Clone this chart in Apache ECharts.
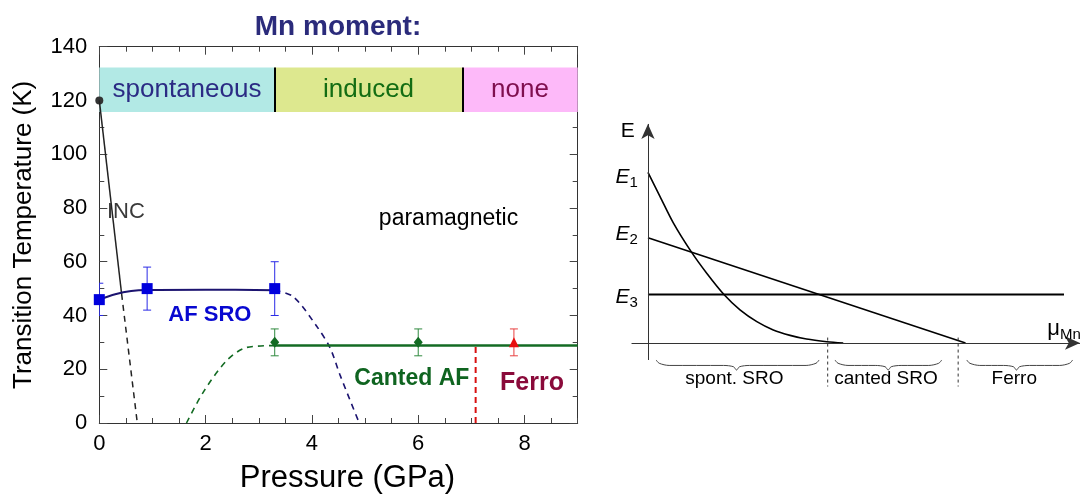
<!DOCTYPE html>
<html><head><meta charset="utf-8">
<script src="https://cdn.jsdelivr.net/npm/echarts@6/dist/echarts.min.js"></script>
<style>html,body{margin:0;padding:0;background:#fff}#c{width:1087px;height:499px}</style>
</head><body><div id="c"></div>
<script>
// ---------- Left panel: phase diagram (Pressure GPa vs Transition Temperature K) ----------
const afSroPoints   = [[0, 45.9], [0.9, 50], [3.3, 50]];
const afSroErrors   = [[0, 40, 52], [0.9, 42, 58], [3.3, 40, 60]];      // [P, low, high]
const afSroCurve    = [[0, 45.9], [0.3, 47.9], [0.6, 49.1], [0.9, 49.5], [2.0, 49.6], [3.3, 49.4]];
const afSroDashed   = [[3.3, 49.4], [3.65, 47], [4.09, 36], [4.34, 28], [4.53, 17.8], [4.89, 0]];
const cantedPoints  = [[3.3, 30], [6, 30]];
const cantedErrors  = [[3.3, 25, 35], [6, 25, 35]];
const cantedLine    = [[3.3, 28.8], [9, 28.8]];
const cantedDashed  = [[1.64, 0], [1.96, 11.6], [2.4, 23.3], [2.77, 28.1], [3.3, 28.8]];
const ferroPoints   = [[7.8, 30]];
const ferroErrors   = [[7.8, 25, 35]];
const ferroBoundary = [[7.08, 0], [7.08, 28.8]];
const incSolid      = [[0, 120], [0.42, 48]];
const incDashed     = [[0.42, 48], [0.715, 0]];
const incStart      = [[0, 120]];
const momentBandNames = ['spontaneous', 'induced', 'none'];
const momentBandEdges = [0, 3.3, 6.83, 9];
const momentBandRange = [115.7, 132.3];
const phaseLabelText = ['INC', 'paramagnetic', 'AF SRO', 'Canted AF', 'Ferro'];
const phaseLabelAt   = [[0.5, 78.7], [6.57, 76.2], [2.08, 40.2], [5.88, 16.4], [8.14, 15.0]];

// ---------- Right panel: energy schematic (E vs mu_Mn, arbitrary units) ----------
const levelE1 = [[0, 7.83], [0.28, 6.72], [0.59, 5.50], [1.0, 4.19], [1.36, 3.20], [1.77, 2.20], [2.13, 1.52],
                 [2.52, 0.98], [2.90, 0.60], [3.29, 0.35], [3.67, 0.18], [4.14, 0.06], [4.52, 0]];
const levelE2 = [[0, 4.83], [7.35, 0]];
const levelE3 = [[0, 2.23], [9.63, 2.23]];
const regimeNames    = ['spont. SRO', 'canted SRO', 'Ferro'];
const regimeBraces   = [[0.19, 2.05, 3.96], [4.33, 5.56, 6.80], [7.38, 8.53, 9.83]]; // [start, tip, end]
const regimeBoundary = [4.16, 7.18];
const energyLabelText = ['E', 'E1', 'E2', 'E3', 'muMn'];
const energyLabelAt   = [[-0.47, 9.72], [-0.49, 7.62], [-0.49, 5.0], [-0.49, 2.12], [9.63, 0.64]];

const FONT = '"Liberation Sans", Arial, Helvetica, sans-serif';
const chart = echarts.init(document.getElementById('c'));

const bandColors = ['#b2e9e5', '#dde88f', '#fdb9f9'];
const bandText   = ['#2b2b84', '#136d13', '#7f0f4f'];

function errorBar(color) {
  return function (params, api) {
    const x = api.value(0), lo = api.coord([x, api.value(1)]), hi = api.coord([x, api.value(2)]);
    const w = 4, st = { stroke: color, lineWidth: 1 };
    return { type: 'group', children: [
      { type: 'line', shape: { x1: lo[0], y1: lo[1], x2: hi[0], y2: hi[1] }, style: st },
      { type: 'line', shape: { x1: lo[0] - w, y1: lo[1], x2: lo[0] + w, y2: lo[1] }, style: st },
      { type: 'line', shape: { x1: hi[0] - w, y1: hi[1], x2: hi[0] + w, y2: hi[1] }, style: st }
    ]};
  };
}
function braceShape(b) {
  const x0 = b[0], xm = b[1], x1 = b[2], yT = -0.78, yF = -1.03, yP = -1.24;
  return [[x0, yT], [x0 + 0.07, yF + 0.1], [x0 + 0.3, yF], [xm - 0.3, yF], [xm - 0.07, yF - 0.06], [xm, yP],
          [xm + 0.07, yF - 0.06], [xm + 0.3, yF], [x1 - 0.3, yF], [x1 - 0.07, yF + 0.1], [x1, yT]];
}
function line(data, color, width, type, xi, yi, smooth) {
  return { type: 'line', data: data, xAxisIndex: xi, yAxisIndex: yi, symbol: 'none', silent: true,
    smooth: smooth || false, lineStyle: { color: color, width: width, type: type } };
}

const phaseStyles = {
  'INC':          { fontSize: 22, color: '#3a3a3a' },
  'paramagnetic': { fontSize: 23, color: '#000' },
  'AF SRO':       { fontSize: 22, fontWeight: 'bold', color: '#0808d0' },
  'Canted AF':    { fontSize: 23, fontWeight: 'bold', color: '#0f6420' },
  'Ferro':        { fontSize: 25, fontWeight: 'bold', color: '#8a0a3a' }
};
const energyFormat = { 'E': 'E', 'E1': '{i|E}{s|1}', 'E2': '{i|E}{s|2}', 'E3': '{i|E}{s|3}', 'muMn': '{m|\u03bc}{s|Mn}' };
const energyRich = {
  i: { fontSize: 21, fontStyle: 'italic', fontFamily: FONT, color: '#000', lineHeight: 26 },
  m: { fontSize: 22, fontFamily: FONT, color: '#000', lineHeight: 26 },
  s: { fontSize: 15, fontFamily: FONT, color: '#000', padding: [12, 0, 0, 0] }
};
const solid = { opacity: 1 };

const series = [];
// bands
series.push({
  type: 'line', data: [], xAxisIndex: 0, yAxisIndex: 0, silent: true,
  markArea: { silent: true, data: momentBandNames.map((n, i) => [
    { name: n, xAxis: momentBandEdges[i], yAxis: momentBandRange[0],
      itemStyle: { color: bandColors[i], opacity: 1 },
      label: { color: bandText[i] } },
    { xAxis: momentBandEdges[i + 1], yAxis: momentBandRange[1] }]),
    label: { show: true, position: 'inside', fontSize: 26, fontFamily: FONT } },
  markLine: { silent: true, symbol: 'none', label: { show: false },
    lineStyle: { color: '#000', width: 2, type: 'solid' },
    data: momentBandEdges.slice(1, 3).map(x => [{ coord: [x, momentBandRange[0]] }, { coord: [x, momentBandRange[1]] }]) }
});
series.push(line(incSolid, '#222', 1.5, 'solid', 0, 0));
series.push(line(incDashed, '#222', 1.5, [6, 5], 0, 0));
series.push({ type: 'scatter', data: incStart, xAxisIndex: 0, yAxisIndex: 0, symbol: 'circle', symbolSize: 8, clip: false, silent: true, itemStyle: { color: '#333', opacity: 1 } });
series.push(line(afSroCurve, '#1c1470', 2, 'solid', 0, 0, 0.3));
series.push(line(afSroDashed, '#1c1470', 1.6, [6, 5], 0, 0, 0.3));
series.push(line(cantedDashed, '#136b23', 1.6, [6, 5], 0, 0, 0.3));
series.push(line(cantedLine, '#136b23', 2.5, 'solid', 0, 0));
series.push(line(ferroBoundary, '#d81010', 2, [6, 4], 0, 0));
series.push({ type: 'custom', data: afSroErrors, xAxisIndex: 0, yAxisIndex: 0, clip: true, silent: true, encode: { x: 0, y: [1, 2] }, renderItem: errorBar('#2a2ae6'), z: 3 });
series.push({ type: 'custom', data: cantedErrors, xAxisIndex: 0, yAxisIndex: 0, clip: true, silent: true, encode: { x: 0, y: [1, 2] }, renderItem: errorBar('#2f8a3f'), z: 3 });
series.push({ type: 'custom', data: ferroErrors, xAxisIndex: 0, yAxisIndex: 0, clip: true, silent: true, encode: { x: 0, y: [1, 2] }, renderItem: errorBar('#e84040'), z: 3 });
series.push({ type: 'scatter', data: afSroPoints, xAxisIndex: 0, yAxisIndex: 0, symbol: 'rect', symbolSize: 11, clip: false, silent: true, itemStyle: { color: '#0000dd', opacity: 1 }, z: 5 });
series.push({ type: 'scatter', data: cantedPoints, xAxisIndex: 0, yAxisIndex: 0, symbol: 'diamond', symbolSize: [9, 11], silent: true, itemStyle: { color: '#136b23', opacity: 1 }, z: 5 });
series.push({ type: 'scatter', data: ferroPoints, xAxisIndex: 0, yAxisIndex: 0, symbol: 'triangle', symbolSize: 10, silent: true, itemStyle: { color: '#e81010', opacity: 1 }, z: 5 });
series.push({ type: 'scatter', xAxisIndex: 0, yAxisIndex: 0, symbolSize: 0, silent: true, z: 10, itemStyle: solid,
  data: phaseLabelText.map((t, i) => ({ value: phaseLabelAt[i],
    label: Object.assign({ show: true, position: 'inside', formatter: t, fontFamily: FONT }, phaseStyles[t]) })) });

// right panel
series.push(line(levelE1, '#000', 1.6, 'solid', 4, 2, 0.3));
series.push(line(levelE2, '#000', 1.6, 'solid', 4, 2));
series.push(Object.assign(line(levelE3, '#000', 2, 'solid', 4, 2), {
  markLine: { silent: true, symbol: ['none', 'arrow'], symbolSize: [10, 15], label: { show: false },
    lineStyle: { color: '#333', width: 1, type: 'solid' },
    data: [[{ coord: [-0.38, 0] }, { coord: [10.0, 0] }], [{ coord: [0, -0.78] }, { coord: [0, 10.05] }]] }
}));
regimeBoundary.forEach(x => series.push(line([[x, 0.25], [x, -2.0]], '#333', 1, [3, 3], 4, 2)));
regimeBraces.forEach(b => series.push(line(braceShape(b), '#444', 1, 'solid', 4, 2, 0.3)));
series.push({ type: 'scatter', xAxisIndex: 4, yAxisIndex: 2, symbolSize: 0, silent: true, z: 10, itemStyle: solid,
  data: regimeNames.map((t, i) => ({ value: [regimeBraces[i][1] - 0.05, -1.62],
    label: { show: true, position: 'inside', formatter: t, fontSize: 19, fontFamily: FONT, color: '#000' } })) });
series.push({ type: 'scatter', xAxisIndex: 4, yAxisIndex: 2, symbolSize: 0, silent: true, z: 10, itemStyle: solid,
  data: energyLabelText.map((t, i) => ({ value: energyLabelAt[i],
    label: { show: true, position: 'inside', formatter: energyFormat[t], fontSize: 21, fontFamily: FONT, color: '#000', rich: energyRich } })) });

const majorX = { show: true, inside: true, length: 8, lineStyle: { color: '#444', width: 1 } };
const minorX = { show: true, inside: true, length: 5, lineStyle: { color: '#444', width: 1 } };
const axLine = { show: true, onZero: false, lineStyle: { color: '#333', width: 1 } };

chart.setOption({
  animation: false,
  backgroundColor: '#fff',
  graphic: [{ type: 'text', x: 338, y: 27, silent: true,
    style: { text: 'Mn moment:', fontSize: 28, fontWeight: 'bold', fontFamily: FONT, fill: '#2b2b7b', align: 'center', verticalAlign: 'middle' } }],
  grid: [
    { left: 99.3, right: 509.3, top: 46.7, bottom: 70.7 },
    { left: 613.4, right: 2.7, top: 118.5, bottom: 103.7 }
  ],
  xAxis: [
    { type: 'value', gridIndex: 0, position: 'bottom', min: 0, max: 9, interval: 2, axisLine: axLine, axisTick: majorX,
      splitLine: { show: false }, axisLabel: { fontSize: 22, color: '#000', fontFamily: FONT, margin: 10, showMaxLabel: false },
      name: 'Pressure (GPa)', nameLocation: 'middle', nameGap: 40,
      nameTextStyle: { fontSize: 31, color: '#000', fontFamily: FONT, padding: [0, 0, 0, 18] } },
    { type: 'value', gridIndex: 0, position: 'bottom', min: 0, max: 9, interval: 0.5, axisLine: { show: false, onZero: false },
      axisTick: minorX, axisLabel: { show: false }, splitLine: { show: false } },
    { type: 'value', gridIndex: 0, position: 'top', min: 0, max: 9, interval: 2, axisLine: axLine, axisTick: majorX,
      axisLabel: { show: false }, splitLine: { show: false } },
    { type: 'value', gridIndex: 0, position: 'top', min: 0, max: 9, interval: 0.5, axisLine: { show: false, onZero: false },
      axisTick: minorX, axisLabel: { show: false }, splitLine: { show: false } },
    { type: 'value', gridIndex: 1, min: -0.8, max: 10.1, show: false, splitLine: { show: false } }
  ],
  yAxis: [
    { type: 'value', gridIndex: 0, position: 'left', min: 0, max: 140, interval: 20, axisLine: axLine, axisTick: majorX,
      minorTick: { show: true, splitNumber: 2, length: 5, lineStyle: { color: '#444' } },
      splitLine: { show: false }, minorSplitLine: { show: false },
      axisLabel: { fontSize: 22, color: '#000', fontFamily: FONT, margin: 12 },
      name: 'Transition Temperature (K)', nameLocation: 'middle', nameGap: 62,
      nameTextStyle: { fontSize: 26, color: '#000', fontFamily: FONT } },
    { type: 'value', gridIndex: 0, position: 'right', min: 0, max: 140, interval: 20, axisLine: axLine, axisTick: majorX,
      minorTick: { show: true, splitNumber: 2, length: 5, lineStyle: { color: '#444' } },
      splitLine: { show: false }, axisLabel: { show: false } },
    { type: 'value', gridIndex: 1, min: -2.4, max: 10.3, show: false, splitLine: { show: false } }
  ],
  series: series
});
</script>
</body></html>
